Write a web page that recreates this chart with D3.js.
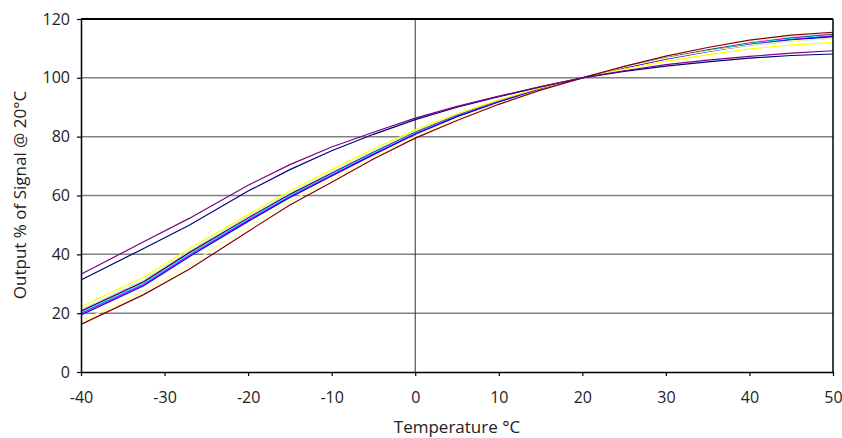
<!DOCTYPE html>
<html><head><meta charset="utf-8">
<script src="https://cdn.jsdelivr.net/npm/d3@7"></script>
<style>body{margin:0;background:#fff}svg text{font-family:"Open Sans",sans-serif;fill:#222}</style>
</head><body><svg id="c" width="842" height="438"></svg>
<script>
const temps = [-40,-32.5,-27,-20,-15,-10,-5,0,5,10,15,20,25,30,35,40,45,50];
const xTicks = [-40,-30,-20,-10,0,10,20,30,40,50];
const yTicks = [0,20,40,60,80,100,120];

const sNavy     = [31.3,42.0,50.0,61.5,68.8,75.2,80.8,85.8,90.0,93.6,96.9,100,102.2,104.0,105.4,106.7,107.6,108.1];
const sPurple   = [33.2,44.3,52.3,63.5,70.5,76.5,81.5,86.3,90.3,93.8,97.0,100,102.4,104.5,106.0,107.3,108.4,109.2];
const sDarkRed  = [16.2,26.3,35.0,47.8,56.8,64.5,72.4,79.5,85.5,91.0,95.8,100,103.9,107.4,110.3,112.8,114.5,115.5];
const sPaleYel  = [17.3,27.4,36.6,49.5,58.0,65.6,73.1,80.1,86.1,91.3,95.9,100,103.6,106.6,109.1,111.1,112.6,113.4];
const sYellow   = [22.2,32.2,42.0,53.5,61.5,68.8,75.8,82.3,87.8,92.5,96.6,100,103.0,105.6,107.9,109.8,111.2,112.0];
const sBlue     = [19.4,29.3,39.3,51.2,59.3,66.6,73.9,80.8,86.8,91.8,96.2,100,103.4,106.4,109.0,111.2,112.9,114.0];
const sMagenta  = [19.8,29.7,39.7,51.6,59.6,66.9,74.1,81.0,86.9,91.9,96.2,100,103.4,106.4,109.0,111.3,113.0,114.2];
const sCyan     = [20.3,30.2,40.2,52.0,60.0,67.2,74.4,81.2,87.1,92.0,96.3,100,103.5,106.6,109.3,111.6,113.3,114.5];
const sBlack    = [20.6,30.6,40.6,52.3,60.3,67.5,74.6,81.4,87.2,92.1,96.3,100,103.6,106.7,109.4,111.7,113.5,114.7];
const sTeal     = [20.1,30.0,40.0,51.8,59.8,67.0,74.2,81.1,87.0,92.0,96.3,100,103.5,106.5,109.2,111.5,113.2,114.4];
const sSkyBlue  = [20.0,29.9,39.9,51.7,59.7,67.0,74.2,81.1,87.0,91.9,96.2,100,103.4,106.4,109.1,111.4,113.1,114.3];
const sLavender = [20.4,30.4,40.4,52.2,60.2,67.4,74.5,81.3,87.1,92.0,96.3,100,103.4,106.3,108.9,111.0,112.6,113.5];
const sRose     = [21.0,31.0,41.0,52.6,60.6,67.8,74.9,81.6,87.4,92.2,96.4,100,103.6,106.8,109.6,112.0,113.8,115.0];
const sPaleBlue = [20.8,30.7,40.7,52.4,60.4,67.6,74.7,81.5,87.3,92.1,96.3,100,103.5,106.6,109.2,111.4,113.0,114.0];
const sLtTurq   = [21.3,31.3,41.3,52.9,60.9,68.0,75.1,81.8,87.5,92.3,96.5,100,103.4,106.3,108.8,110.9,112.4,113.3];

const series = [
  {v:sLtTurq,c:"#CCFFFF"},{v:sPaleBlue,c:"#99CCFF"},{v:sRose,c:"#FF99CC"},{v:sLavender,c:"#CC99FF"},
  {v:sSkyBlue,c:"#00CCFF"},{v:sTeal,c:"#008080"},{v:sBlack,c:"#000000"},{v:sCyan,c:"#00FFFF"},
  {v:sMagenta,c:"#FF00FF"},{v:sBlue,c:"#0000FF"},{v:sYellow,c:"#FFFF00"},{v:sPaleYel,c:"#FFFF99"},
  {v:sDarkRed,c:"#800000"},{v:sNavy,c:"#000080"},{v:sPurple,c:"#800080"}
];

const svg = d3.select("#c");
const L=81, R=833, T=19, B=372;
const x = d3.scaleLinear().domain([-40,50]).range([L,R]);
const y = d3.scaleLinear().domain([0,120]).range([B,T]);

svg.append("g").selectAll("line").data(yTicks.filter(d=>d>0&&d<120)).join("line")
  .attr("x1",L).attr("x2",R).attr("y1",d=>y(d)).attr("y2",d=>y(d))
  .attr("stroke","#808080").attr("stroke-width",1.5);

svg.append("line").attr("x1",x(0)).attr("x2",x(0)).attr("y1",T).attr("y2",B)
  .attr("stroke","#333").attr("stroke-width",1);

const line = d3.line().x((d,i)=>x(temps[i])).y(d=>y(d));
svg.append("g").selectAll("path").data(series).join("path")
  .attr("d",d=>line(d.v)).attr("fill","none").attr("stroke",d=>d.c).attr("stroke-width",1.2);

svg.append("line").attr("x1",L).attr("x2",R).attr("y1",T).attr("y2",T).attr("stroke","#000").attr("stroke-width",2);
svg.append("line").attr("x1",R).attr("x2",R).attr("y1",T).attr("y2",B).attr("stroke","#000").attr("stroke-width",1.5);

const fmt = d => String(d);
const xa = svg.append("g").attr("transform",`translate(0,${B})`)
  .call(d3.axisBottom(x).tickValues(xTicks).tickFormat(fmt).tickSize(4).tickSizeOuter(0).tickPadding(16));
const ya = svg.append("g").attr("transform",`translate(${L},0)`)
  .call(d3.axisLeft(y).tickValues(yTicks).tickFormat(fmt).tickSize(4).tickSizeOuter(0).tickPadding(7));
[xa,ya].forEach(g=>{
  g.select(".domain").attr("stroke","#000").attr("stroke-width",1.5);
  g.selectAll(".tick line").attr("stroke","#000").attr("stroke-width",1.2);
  g.selectAll("text").attr("font-size",16).attr("font-family","'Open Sans',sans-serif").attr("fill","#222");
});

svg.append("text").attr("x",457).attr("y",433).attr("text-anchor","middle").attr("font-size",17).text("Temperature °C");
svg.append("text").attr("transform","translate(26,195) rotate(-90)").attr("text-anchor","middle").attr("font-size",17).text("Output % of Signal @ 20°C");
</script></body></html>
